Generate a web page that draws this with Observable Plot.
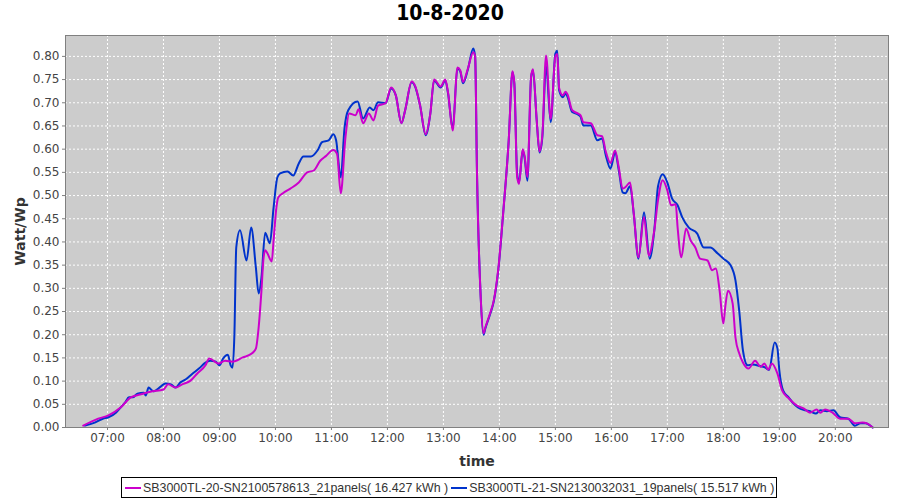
<!DOCTYPE html>
<html>
<head>
<meta charset="utf-8">
<script src="https://cdn.jsdelivr.net/npm/d3@7"></script>
<script src="https://cdn.jsdelivr.net/npm/@observablehq/plot@0.6"></script>
<style>
  body { margin: 0; background: #fff; }
  #wrap { position: relative; width: 900px; height: 500px; font-family: "DejaVu Sans", sans-serif; }
  #title { position: absolute; top: 1px; left: 0; width: 900px; text-align: center; font: bold 21px "DejaVu Sans Condensed", "DejaVu Sans", sans-serif; color: #000; }
  #chart { position: absolute; top: 0; left: 0; }
  #legend { position: absolute; top: 477px; left: 121px; width: 654px; height: 19px; border: 1px solid #000; font: 12.4px "Liberation Sans", sans-serif; color: #333; display: flex; align-items: center; white-space: nowrap; }
  .sw { display: inline-block; width: 16px; height: 2px; margin: 0 2px 0 3px; }
</style>
</head>
<body>
<div id="wrap">
  <div id="title">10-8-2020</div>
  <div id="chart"></div>
  <div id="legend"></div>
</div>
<script>
const seriesNames = [
  "SB3000TL-20-SN2100578613_21panels( 16.427 kWh )",
  "SB3000TL-21-SN2130032031_19panels( 15.517 kWh )"
];
const seriesColors = ["#cc00cc", "#0033cc"];

const magentaTimes = ["06:34","06:50","07:01","07:14","07:25","07:35","07:48","08:00","08:05","08:13","08:20","08:29","08:36","08:45","08:49","08:59","09:06","09:14","09:25","09:35","09:39","09:42","09:45","09:47","09:49","09:51","09:56","09:58","10:01","10:03","10:08","10:16","10:25","10:34","10:41","10:48","10:54","11:02","11:06","11:10","11:15","11:19","11:26","11:29","11:34","11:40","11:45","11:50","11:58","12:04","12:09","12:15","12:19","12:26","12:30","12:35","12:41","12:46","12:50","12:57","13:02","13:05","13:10","13:15","13:18","13:21","13:26","13:32","13:34","13:36","13:40","13:43","13:45","13:50","13:54","13:59","14:04","14:10","14:14","14:16","14:19","14:21","14:25","14:27","14:30","14:34","14:36","14:40","14:43","14:46","14:50","14:55","15:00","15:02","15:04","15:08","15:11","15:13","15:18","15:24","15:27","15:30","15:38","15:45","15:50","15:54","15:59","16:04","16:08","16:12","16:15","16:20","16:24","16:29","16:35","16:40","16:46","16:50","16:55","17:00","17:04","17:09","17:11","17:15","17:20","17:25","17:30","17:35","17:43","17:48","17:52","17:56","18:00","18:02","18:05","18:10","18:13","18:17","18:21","18:27","18:34","18:40","18:44","18:48","18:52","18:58","19:03","19:10","19:19","19:26","19:33","19:40","19:44","19:49","19:57","20:05","20:14","20:21","20:29","20:34","20:40"];
const magentaValues = [0.004,0.019,0.026,0.043,0.065,0.071,0.078,0.082,0.093,0.086,0.093,0.101,0.116,0.134,0.149,0.138,0.144,0.142,0.151,0.160,0.170,0.216,0.295,0.360,0.382,0.377,0.358,0.403,0.474,0.496,0.505,0.515,0.528,0.550,0.554,0.575,0.585,0.598,0.590,0.505,0.625,0.677,0.673,0.686,0.656,0.677,0.662,0.694,0.699,0.733,0.716,0.656,0.684,0.746,0.735,0.694,0.632,0.677,0.750,0.735,0.750,0.722,0.640,0.776,0.770,0.745,0.772,0.809,0.800,0.548,0.280,0.203,0.216,0.246,0.274,0.345,0.461,0.619,0.768,0.742,0.540,0.525,0.600,0.585,0.540,0.757,0.772,0.662,0.595,0.630,0.802,0.665,0.800,0.805,0.732,0.716,0.724,0.718,0.684,0.677,0.673,0.658,0.656,0.630,0.628,0.595,0.570,0.597,0.560,0.515,0.518,0.528,0.461,0.367,0.453,0.371,0.425,0.490,0.533,0.511,0.479,0.481,0.431,0.367,0.429,0.403,0.388,0.364,0.360,0.339,0.343,0.295,0.224,0.259,0.295,0.267,0.194,0.160,0.140,0.127,0.144,0.131,0.138,0.125,0.138,0.116,0.080,0.063,0.047,0.041,0.032,0.039,0.032,0.039,0.032,0.019,0.019,0.009,0.011,0.009,0.000];

const blueTimes = ["06:36","06:47","06:55","07:01","07:09","07:14","07:19","07:23","07:27","07:32","07:39","07:41","07:44","07:49","07:57","08:02","08:08","08:13","08:18","08:24","08:31","08:38","08:45","08:50","08:56","09:00","09:04","09:09","09:12","09:14","09:16","09:18","09:22","09:29","09:34","09:39","09:42","09:45","09:49","09:54","09:58","10:02","10:05","10:13","10:19","10:25","10:30","10:38","10:45","10:50","10:57","11:02","11:05","11:10","11:14","11:18","11:28","11:34","11:41","11:45","11:50","11:58","12:04","12:09","12:15","12:19","12:26","12:30","12:35","12:41","12:46","12:50","12:57","13:02","13:05","13:10","13:15","13:18","13:21","13:26","13:32","13:34","13:36","13:40","13:43","13:45","13:50","13:54","13:59","14:04","14:10","14:14","14:16","14:19","14:21","14:25","14:27","14:30","14:34","14:36","14:40","14:43","14:46","14:50","14:55","15:00","15:02","15:04","15:08","15:11","15:13","15:18","15:24","15:27","15:30","15:38","15:45","15:50","15:54","15:59","16:04","16:08","16:12","16:15","16:20","16:24","16:29","16:35","16:41","16:46","16:50","16:55","17:00","17:05","17:11","17:16","17:23","17:32","17:39","17:46","17:54","18:00","18:08","18:13","18:17","18:21","18:26","18:31","18:40","18:45","18:49","18:55","18:58","19:00","19:04","19:10","19:15","19:20","19:28","19:33","19:39","19:44","19:51","19:58","20:05","20:14","20:21","20:27","20:32","20:40"];
const blueValues = [0.004,0.011,0.019,0.022,0.032,0.043,0.054,0.065,0.065,0.073,0.075,0.069,0.086,0.078,0.088,0.095,0.093,0.086,0.097,0.104,0.116,0.127,0.140,0.144,0.142,0.134,0.149,0.157,0.134,0.129,0.200,0.388,0.425,0.360,0.431,0.345,0.289,0.323,0.420,0.397,0.474,0.539,0.548,0.552,0.543,0.569,0.584,0.584,0.597,0.615,0.619,0.632,0.619,0.539,0.645,0.684,0.703,0.666,0.690,0.684,0.701,0.699,0.731,0.716,0.656,0.684,0.744,0.733,0.694,0.630,0.677,0.748,0.733,0.748,0.720,0.645,0.774,0.768,0.742,0.770,0.817,0.800,0.548,0.280,0.200,0.214,0.244,0.272,0.343,0.461,0.619,0.766,0.742,0.548,0.528,0.597,0.582,0.532,0.755,0.770,0.662,0.593,0.625,0.780,0.658,0.806,0.812,0.727,0.712,0.720,0.713,0.680,0.675,0.670,0.651,0.651,0.619,0.623,0.587,0.558,0.593,0.554,0.507,0.505,0.520,0.461,0.364,0.464,0.364,0.425,0.520,0.546,0.528,0.494,0.479,0.453,0.431,0.418,0.388,0.388,0.375,0.364,0.349,0.317,0.252,0.166,0.134,0.136,0.132,0.129,0.124,0.183,0.170,0.123,0.080,0.065,0.052,0.043,0.037,0.035,0.030,0.037,0.035,0.037,0.022,0.019,0.004,0.009,0.009,0.000];

const yTicks = d3.range(0, 0.8001, 0.05);
const xTickLabels = ["07:00","08:00","09:00","10:00","11:00","12:00","13:00","14:00","15:00","16:00","17:00","18:00","19:00","20:00"];

const toDate = s => { const [h, m] = s.split(":").map(Number); return new Date(Date.UTC(2020, 7, 10, h, m)); };
const rows = (times, values, name) => times.map((t, i) => ({time: toDate(t), value: values[i], series: name}));
const magenta = rows(magentaTimes, magentaValues, seriesNames[0]);
const blue = rows(blueTimes, blueValues, seriesNames[1]);
const xTicks = xTickLabels.map(toDate);

const chart = Plot.plot({
  width: 900,
  height: 470,
  marginTop: 35,
  marginLeft: 65,
  marginRight: 12,
  marginBottom: 43,
  style: {fontFamily: "DejaVu Sans, sans-serif", fontSize: "12px", color: "#444", background: "transparent"},
  x: {type: "utc", domain: [toDate("06:15"), toDate("20:57")]},
  y: {domain: [0, 0.845]},
  marks: [
    Plot.frame({fill: "#cccccc", stroke: null}),
    Plot.gridX(xTicks, {stroke: "#ffffff", strokeOpacity: 1, strokeDasharray: "2,2", strokeWidth: 1}),
    Plot.gridY(yTicks, {stroke: "#ffffff", strokeOpacity: 1, strokeDasharray: "2,2", strokeWidth: 1}),
    Plot.lineY(blue, {x: "time", y: "value", stroke: seriesColors[1], strokeWidth: 2, curve: "monotone-x"}),
    Plot.lineY(magenta, {x: "time", y: "value", stroke: seriesColors[0], strokeWidth: 2, curve: "monotone-x"}),
    Plot.frame({stroke: "#808080", strokeWidth: 1}),
    Plot.axisX(xTicks, {tickFormat: d3.utcFormat("%H:%M"), tickSize: 3, tickPadding: 3, stroke: "#808080", fill: "#444",
      label: "time", labelAnchor: "center", labelArrow: "none", labelOffset: 38}),
    Plot.axisY(yTicks, {tickFormat: d3.format(".2f"), tickSize: 3, tickPadding: 3, stroke: "#808080", fill: "#444",
      label: "Watt/Wp", labelAnchor: "center", labelArrow: "none", labelOffset: 50})
  ]
});
document.getElementById("chart").appendChild(chart);

// style axis labels
chart.querySelectorAll("[aria-label='x-axis label'] text, [aria-label='y-axis label'] text").forEach(t => {
  t.setAttribute("font-size", "14"); t.setAttribute("font-weight", "600"); t.setAttribute("fill", "#333");
});

const legend = document.getElementById("legend");
seriesNames.forEach((name, i) => {
  const sw = document.createElement("span");
  sw.className = "sw"; sw.style.background = seriesColors[i];
  const tx = document.createElement("span");
  tx.textContent = name;
  legend.appendChild(sw); legend.appendChild(tx);
});
</script>
</body>
</html>
